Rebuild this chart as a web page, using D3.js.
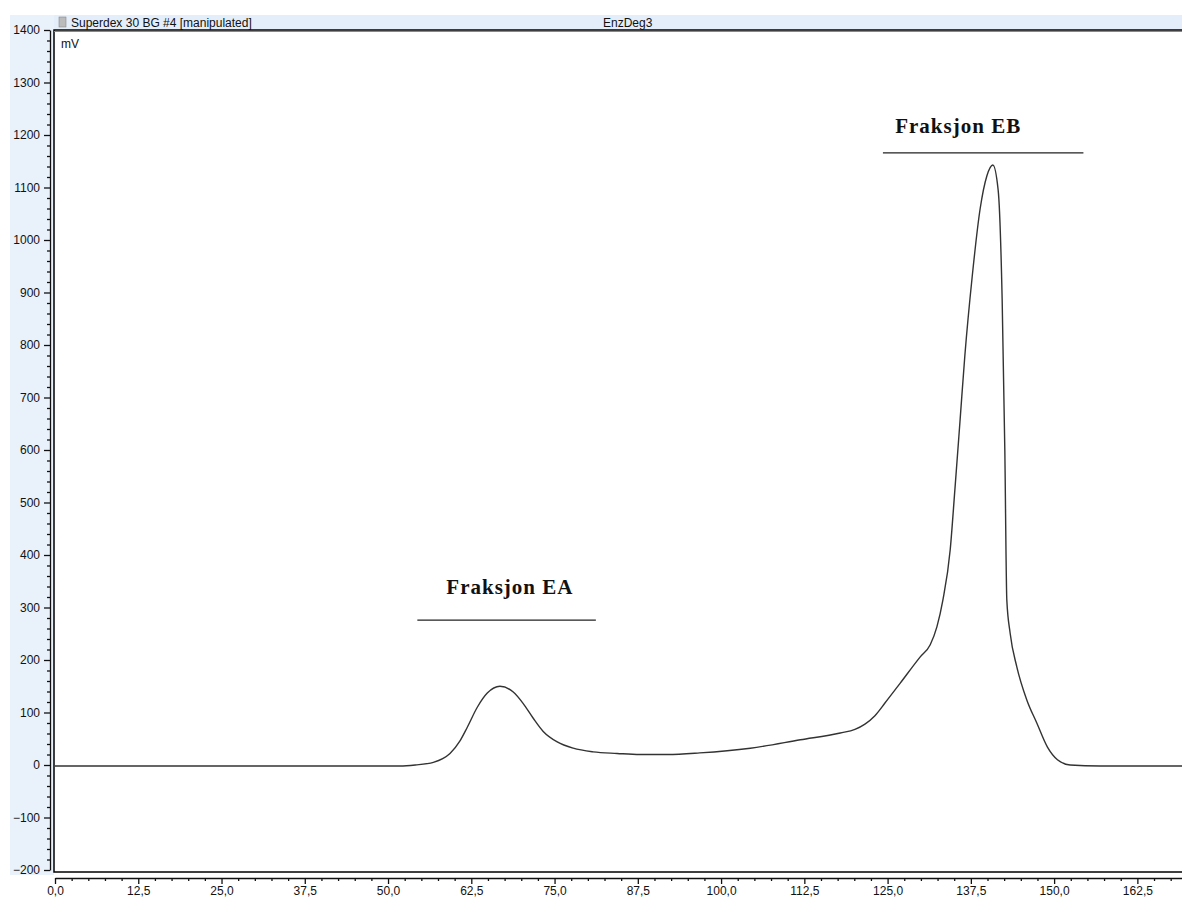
<!DOCTYPE html>
<html>
<head>
<meta charset="utf-8">
<script src="https://cdn.jsdelivr.net/npm/d3@7"></script>
<style>
  html, body { margin: 0; padding: 0; background: #fff; }
  svg { display: block; }
  text { font-family: "Liberation Sans", Arial, sans-serif; }
</style>
</head>
<body>
<svg id="chart" width="1182" height="897"></svg>
<script>
// ---- data ----
const retentionTime = [0, 10, 20, 30, 40, 50, 51.8, 54.1, 56.8, 58.2, 59.3, 60.8, 61.9, 63.4, 64.9, 66.8, 68.8, 70.3, 71.8, 73.3, 75.4, 77.8, 80.8, 84.4, 87.8, 92, 96.8, 104.4, 111.9, 117.9, 120.1, 121.6, 123.1, 124.6, 126.9, 129.9, 131.4, 132.4, 133.3, 134.4, 135.1, 135.9, 136.6, 137.7, 138.9, 139.9, 140.8, 141.6, 142.2, 142.6, 142.9, 143.4, 144.4, 145.9, 147.4, 149.0, 150.5, 152.4, 156.9, 169.2];
const signal_mV     = [-2, -2, -2, -2, -2, -2, -2, 0, 5, 12, 22, 46, 72, 110, 137, 150, 139, 117, 89, 64, 44, 32, 25, 22, 20, 20, 23, 32, 48, 61, 68, 78, 94, 118, 156, 206, 229, 263, 314, 410, 524, 660, 780, 930, 1060, 1122, 1143, 1095, 886, 600, 314, 251, 187, 124, 80, 34, 10, 0, -2, -2];

const xMajorTicks = [0, 12.5, 25, 37.5, 50, 62.5, 75, 87.5, 100, 112.5, 125, 137.5, 150, 162.5];
const xMajorLabels = ["0,0", "12,5", "25,0", "37,5", "50,0", "62,5", "75,0", "87,5", "100,0", "112,5", "125,0", "137,5", "150,0", "162,5"];
const yMajorTicks = [-200, -100, 0, 100, 200, 300, 400, 500, 600, 700, 800, 900, 1000, 1100, 1200, 1300, 1400];

const annotationTexts = ["Fraksjon EA", "Fraksjon EB"];
const annotationCenterX = [68.3, 135.6];
const annotationTextY = [326, 1204];
const annotationLineX0 = [54.4, 124.3];
const annotationLineX1 = [81.2, 154.4];
const annotationLineY = [276, 1166];

const headerLeftText = "Superdex 30 BG #4 [manipulated]";
const headerCenterText = "EnzDeg3";
const yUnitLabel = "mV";

// ---- drawing ----
const svg = d3.select("#chart");
const W = 1182, H = 897;

const x = d3.scaleLinear().domain([0, 169.2]).range([55, 1182]);
const y = d3.scaleLinear().domain([-200, 1400]).range([870, 30]);

// background bands
svg.append("rect").attr("x", 10).attr("y", 15).attr("width", W - 10).attr("height", 15).attr("fill", "#e4eefa");
svg.append("rect").attr("x", 10).attr("y", 15).attr("width", 44).attr("height", 860).attr("fill", "#e9f1fb");

// plot frame
svg.append("rect").attr("x", 54).attr("y", 30).attr("width", W - 54 + 2).attr("height", 842)
  .attr("fill", "#fff").attr("stroke", "#000").attr("stroke-width", 1.5);
svg.append("line").attr("x1", 54).attr("x2", W).attr("y1", 31.5).attr("y2", 31.5).attr("stroke", "#888").attr("stroke-width", 1);

// header
svg.append("rect").attr("x", 59).attr("y", 17).attr("width", 7).attr("height", 10).attr("fill", "#bbb").attr("stroke", "#888").attr("stroke-width", 0.6);
svg.append("text").attr("x", 71).attr("y", 27).attr("font-size", 12).attr("fill", "#111").text(headerLeftText);
svg.append("text").attr("x", 603).attr("y", 27).attr("font-size", 12).attr("fill", "#111").text(headerCenterText);
svg.append("text").attr("x", 61).attr("y", 48).attr("font-size", 12).attr("fill", "#111").text(yUnitLabel);

// y axis
const yMinor = d3.range(-200, 1400.1, 20).filter(v => v % 100 !== 0);
const yAxisG = svg.append("g").attr("transform", "translate(50,0)");
yAxisG.call(d3.axisLeft(y).tickValues(yMajorTicks).tickSize(6).tickSizeOuter(0).tickPadding(4).tickFormat(d3.format("d")));
yAxisG.append("g").call(d3.axisLeft(y).tickValues(yMinor).tickSize(3).tickFormat("")).select(".domain").remove();
yAxisG.selectAll("text").attr("font-size", 12).attr("fill", "#111").style("font-family", "Liberation Sans, Arial, sans-serif");
yAxisG.selectAll("line, path").attr("stroke", "#111").attr("stroke-width", 1.3);

// x axis
const xMinor = d3.range(0, 169.2, 2.5).filter(v => v % 12.5 !== 0);
const xAxisG = svg.append("g").attr("transform", "translate(0,878)");
xAxisG.call(d3.axisBottom(x).tickValues(xMajorTicks).tickSize(6).tickSizeOuter(0).tickPadding(2)
  .tickFormat((d, i) => xMajorLabels[i]));
xAxisG.append("g").call(d3.axisBottom(x).tickValues(xMinor).tickSize(3).tickFormat("")).select(".domain").remove();
xAxisG.selectAll("text").attr("font-size", 12).attr("fill", "#111").style("font-family", "Liberation Sans, Arial, sans-serif");
xAxisG.selectAll("line, path").attr("stroke", "#111").attr("stroke-width", 1.3);

// curve
const pts = retentionTime.map((t, i) => [t, signal_mV[i]]);
const line = d3.line().x(d => x(d[0])).y(d => y(d[1])).curve(d3.curveMonotoneX);
svg.append("path").datum(pts).attr("d", line)
  .attr("fill", "none").attr("stroke", "#333").attr("stroke-width", 1.4);

// annotations
annotationTexts.forEach((t, i) => {
  svg.append("text").attr("x", x(annotationCenterX[i])).attr("y", y(annotationTextY[i]))
    .attr("text-anchor", "middle").attr("font-size", 21).attr("font-weight", "bold")
    .style("font-family", "Liberation Serif, 'Times New Roman', serif").style("letter-spacing", "1px")
    .attr("fill", "#111").text(t);
  svg.append("line").attr("x1", x(annotationLineX0[i])).attr("x2", x(annotationLineX1[i]))
    .attr("y1", y(annotationLineY[i])).attr("y2", y(annotationLineY[i]))
    .attr("stroke", "#222").attr("stroke-width", 1.3);
});
</script>
</body>
</html>
